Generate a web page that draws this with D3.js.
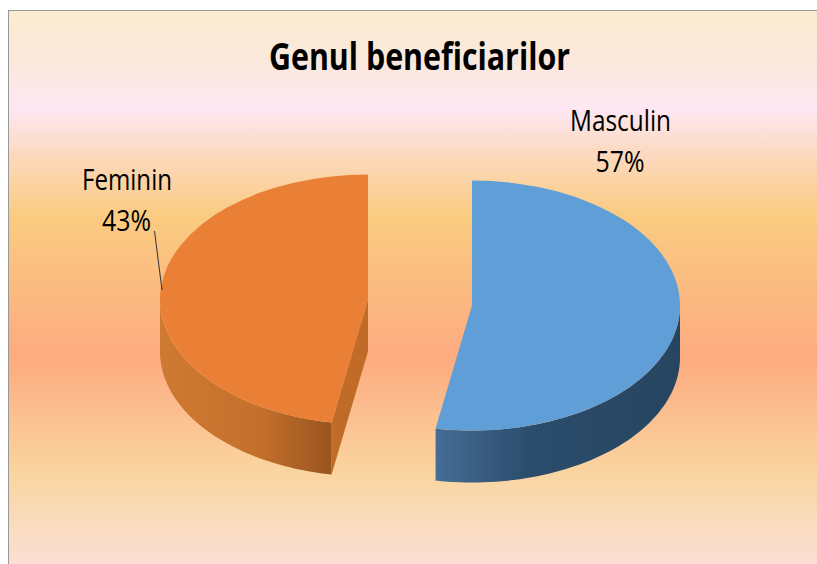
<!DOCTYPE html>
<html><head><meta charset="utf-8">
<style>html,body{margin:0;padding:0;background:#fff}svg{display:block}text{font-family:"Open Sans","Noto Sans",sans-serif;fill:#000}</style>
<script src="https://cdn.jsdelivr.net/npm/d3@7/dist/d3.min.js"></script>
</head><body><script>
const titleText = "Genul beneficiarilor";
const categories = ["Masculin","Feminin"];
const percentLabels = [57,43];
// share of the ellipse each slice occupies as drawn (perspective-foreshortened in the picture)
const drawnShares = [52.8,47.2];
const sliceFill = ["#5f9ed6","#ea8035"];
const edgeFill = ["#2a4a68","#c06c28"];
const wallStops = [[["#456d95","#2b4c6c","#264560"],[436,530,680]],[["#cf7a32","#c4702c","#98541f"],[161,260,332]]];
const bgOffsets = [0,0.09,0.175,0.255,0.366,0.617,0.82,0.91,1];
const bgColors = ["#fbecd0","#fbe8dc","#fde7f2","#fcd9bf","#facb80","#fdab80","#fad5a0","#f9dcbe","#fde0d8"];

const W=817,H=564;
const svg=d3.select("body").append("svg").attr("width",W).attr("height",H);
const defs=svg.append("defs");
const frame={x:8.5,y:10.5};
const bg=defs.append("linearGradient").attr("id","bg").attr("x1",0).attr("x2",0).attr("y1",0).attr("y2",1);
bgOffsets.forEach((o,i)=>bg.append("stop").attr("offset",o).attr("stop-color",bgColors[i]));
wallStops.forEach((w,i)=>{
  const g=defs.append("linearGradient").attr("id","wall"+i).attr("gradientUnits","userSpaceOnUse")
    .attr("x1",w[1][0]).attr("x2",w[1][2]).attr("y1",0).attr("y2",0);
  w[0].forEach((c,j)=>g.append("stop").attr("offset",(w[1][j]-w[1][0])/(w[1][2]-w[1][0])).attr("stop-color",c));
});
svg.append("rect").attr("x",frame.x).attr("y",frame.y).attr("width",W).attr("height",H)
  .attr("fill","url(#bg)").attr("stroke","#999").attr("stroke-width",1);

const rx=208, ry=125, depth=52;
const centres=[[472,305.5],[368,299.5]];
const pie=d3.pie().sort(null).value(d=>d);
const arcs=pie(drawnShares);
const arcGen=d3.arc().innerRadius(0).outerRadius(rx);
const pt=(c,a,dy=0)=>[c[0]+rx*Math.sin(a),c[1]-ry*Math.cos(a)+dy];
const line=d3.line();

arcs.forEach((a,i)=>{
  const c=centres[i];
  // visible outer wall: portion of the rim facing the viewer
  const a0=Math.max(a.startAngle,Math.PI/2), a1=Math.min(a.endAngle,Math.PI*1.5);
  const angles=d3.range(0,61).map(k=>a0+(a1-a0)*k/60);
  const top=angles.map(t=>pt(c,t)), bot=angles.map(t=>pt(c,t,depth)).reverse();
  // cut face of the second slice faces the viewer
  if(i===1){
    const p=pt(c,a.startAngle);
    svg.append("path").attr("d",line([c,p,[p[0],p[1]+depth],[c[0],c[1]+depth]])+"Z").attr("fill",edgeFill[i]);
  }
  svg.append("path").attr("d",line(top.concat(bot))+"Z").attr("fill","url(#wall"+i+")");
  svg.append("path").attr("transform",`translate(${c[0]},${c[1]}) scale(1,${ry/rx})`)
    .attr("d",arcGen(a)).attr("fill",sliceFill[i]);
});

// leader line
svg.append("path").attr("d",line([[154.5,231],[162,290]])).attr("stroke","#333").attr("stroke-width",1).attr("fill","none");

const txt=(s,x,y,size,len,weight)=>svg.append("text").attr("x",x).attr("y",y).attr("font-size",size)
  .attr("font-weight",weight||400).attr("textLength",len).attr("lengthAdjust","spacingAndGlyphs").attr("text-anchor","middle").text(s);
txt(titleText,419.5,70,37,301,700);
txt(categories[0],620.5,130.5,28.5,101);
txt(percentLabels[0]+"%",620,172,28.5,49);
txt(categories[1],127,190,28.5,90);
txt(percentLabels[1]+"%",126.5,231,28.5,49);
</script></body></html>
